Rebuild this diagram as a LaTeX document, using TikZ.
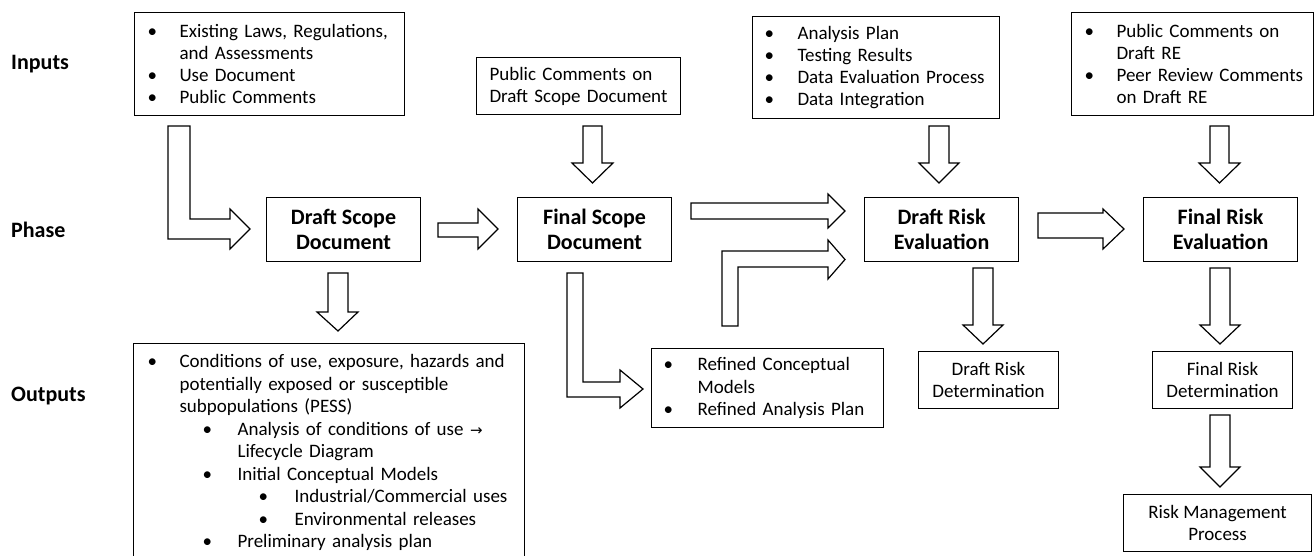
\documentclass[tikz,border=0pt]{standalone}
\usepackage{fontspec}
\setmainfont{Carlito}
\newfontfamily\djv{DejaVu Sans}
\newcommand\bitem[3]{\hspace*{#1pt}\makebox[#2pt][l]{\textbullet}\mbox{#3}}
\newcommand\citem[2]{\hspace*{#1pt}\mbox{#2}}
\begin{document}
\begin{tikzpicture}[x=1pt,y=-1pt,
  box/.style={draw, line width=1.1pt, inner sep=0pt},
  body/.style={font=\fontsize{19}{22}\selectfont},
  listbox/.style={box, body, anchor=north west, align=left},
  phasebox/.style={box, font=\bfseries\fontsize{22}{25}\selectfont, align=center,
    minimum width=154pt, minimum height=64pt, anchor=north west},
  smallbox/.style={box, body, align=center, anchor=north west},
  rowlabel/.style={anchor=west, font=\bfseries\fontsize{22}{25}\selectfont, inner sep=0pt},
  blk/.style={draw, line width=1.2pt, fill=white, line join=miter}]
\useasboundingbox (0,0) rectangle (1314,556);
\fill[white] (0,0) rectangle (1314,556);

% row labels
\node[rowlabel] (linputs) at (11,64) {Inputs};
\node[rowlabel] (lphase) at (11,230) {Phase};
\node[rowlabel] (loutputs) at (11,396) {Outputs};

% inputs
\node[listbox, text width=244pt, inner xsep=13pt, minimum height=103pt] (in1) at (134,12)
  {\bitem{0}{32}{Existing Laws, Regulations,}\\\citem{32}{and Assessments}\\\bitem{0}{32}{Use Document}\\\bitem{0}{32}{Public Comments}};
\node[listbox, text width=178pt, inner xsep=13pt, minimum height=57pt] (in2) at (476,57)
  {\citem{0}{Public Comments on}\\\citem{0}{Draft Scope Document}};
\node[listbox, text width=223pt, inner xsep=12pt, minimum height=102pt] (in3) at (752,16)
  {\bitem{0}{33}{Analysis Plan}\\\bitem{0}{33}{Testing Results}\\\bitem{0}{33}{Data Evaluation Process}\\\bitem{0}{33}{Data Integration}};
\node[listbox, text width=215.5pt, inner xsep=13pt, minimum height=103pt] (in4) at (1071,12)
  {\bitem{0}{32}{Public Comments on}\\\citem{32}{Draft RE}\\\bitem{0}{32}{Peer Review Comments}\\\citem{32}{on Draft RE}};

% phases
\node[phasebox] (ds) at (266,197) {Draft Scope\\Document};
\node[phasebox] (fs) at (517,197) {Final Scope\\Document};
\node[phasebox] (dr) at (864,197) {Draft Risk\\Evaluation};
\node[phasebox] (fr) at (1143,197) {Final Risk\\Evaluation};

% outputs
\node[listbox, font=\fontsize{19}{22.5}\selectfont, text width=363pt, inner xsep=14pt, minimum height=218pt] (out) at (133,343)
  {\bitem{0}{32}{Conditions of use, exposure, hazards and}\\
   \citem{32}{potentially exposed or susceptible}\\
   \citem{32}{subpopulations (PESS)}\\
   \bitem{55}{35}{Analysis of conditions of use {\djv\fontsize{15}{15}\selectfont →}}\\
   \citem{90}{Lifecycle Diagram}\\
   \bitem{55}{35}{Initial Conceptual Models}\\
   \bitem{111}{36}{Industrial/Commercial uses}\\
   \bitem{111}{36}{Environmental releases}\\
   \bitem{55}{35}{Preliminary analysis plan}};
\node[listbox, font=\fontsize{19}{22.5}\selectfont, text width=208pt, inner xsep=12pt, minimum height=79pt] (ref) at (651,348)
  {\bitem{0}{34}{Refined Conceptual}\\\citem{34}{Models}\\\bitem{0}{34}{Refined Analysis Plan}};
\node[smallbox, minimum width=140pt, minimum height=57pt] (drd) at (918,351) {Draft Risk\\Determination};
\node[smallbox, minimum width=140pt, minimum height=57pt] (frd) at (1152,351) {Final Risk\\Determination};
\node[smallbox, minimum width=188pt, minimum height=57pt] (rm) at (1123,494) {Risk Management\\Process};

% down block arrows
\draw[blk] (583,126) -- (602,126) -- (602,163) -- (613,163) -- (592.5,183) -- (572,163) -- (583,163) -- cycle;
\draw[blk] (929,126) -- (949,126) -- (949,163) -- (959,163) -- (939,183) -- (919,163) -- (929,163) -- cycle;
\draw[blk] (1210,126) -- (1229,126) -- (1229,163) -- (1240,163) -- (1219.5,183) -- (1199,163) -- (1210,163) -- cycle;
\draw[blk] (328,273) -- (348,273) -- (348,312) -- (358,312) -- (338,331) -- (317,312) -- (328,312) -- cycle;
\draw[blk] (973,268) -- (993,268) -- (993,325) -- (1003,325) -- (983,344) -- (963,325) -- (973,325) -- cycle;
\draw[blk] (1210,268) -- (1230,268) -- (1230,325) -- (1240,325) -- (1220,344) -- (1200,325) -- (1210,325) -- cycle;
\draw[blk] (1210,415) -- (1230,415) -- (1230,467) -- (1240,467) -- (1220,487) -- (1200,467) -- (1210,467) -- cycle;

% right block arrows
\draw[blk] (438,223) -- (478,223) -- (478,209) -- (498,229) -- (478,249) -- (478,237) -- (438,237) -- cycle;
\draw[blk] (1038,213) -- (1103,213) -- (1103,209) -- (1124,229) -- (1103,249) -- (1103,238) -- (1038,238) -- cycle;
\draw[blk] (691,203) -- (828,203) -- (828,194) -- (845,211) -- (828,228) -- (828,219) -- (691,219) -- cycle;

% L-shaped block arrows
\draw[blk] (168,126) -- (190,126) -- (190,219) -- (230,219) -- (230,209) -- (250,229) -- (230,249) -- (230,239) -- (168,239) -- cycle;
\draw[blk] (722,326) -- (722,251) -- (828,251) -- (828,240) -- (845,259.5) -- (828,279) -- (828,267) -- (738,267) -- (738,326) -- cycle;
\draw[blk] (567,273) -- (583,273) -- (583,382) -- (620,382) -- (620,370) -- (643,389) -- (620,408) -- (620,397) -- (567,397) -- cycle;
\end{tikzpicture}
\end{document}
